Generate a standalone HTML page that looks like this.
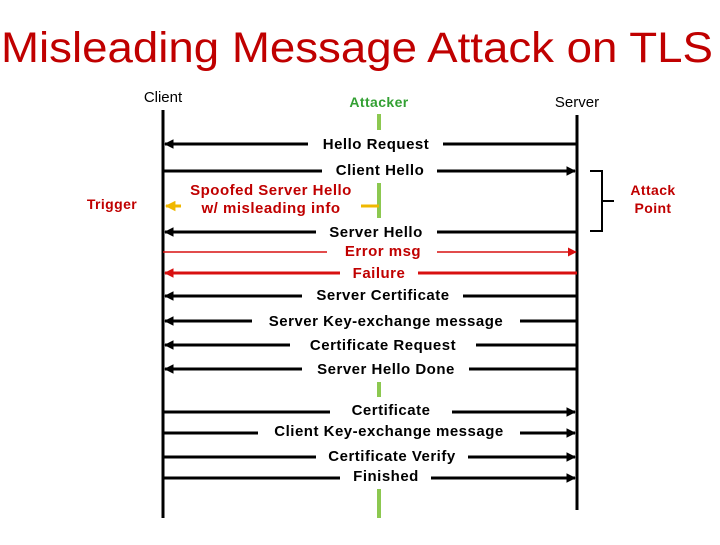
<!DOCTYPE html>
<html><head><style>
body{margin:0;background:#fff;width:720px;height:540px;overflow:hidden}
svg text{font-family:"Liberation Sans",Arial,sans-serif}
</style></head><body>
<svg width="720" height="540" viewBox="0 0 720 540" xmlns="http://www.w3.org/2000/svg">
<defs>
<marker id="ab" viewBox="0 0 10 10" refX="9" refY="5" markerWidth="3.2" markerHeight="3.2" orient="auto"><path d="M0,0L10,5L0,10z" fill="#000"/></marker>
<marker id="ar" viewBox="0 0 10 10" refX="9" refY="5" markerWidth="6" markerHeight="6" orient="auto"><path d="M0,0L10,5L0,10z" fill="#d81010"/></marker>
<marker id="ar2" viewBox="0 0 10 10" refX="9" refY="5" markerWidth="3.2" markerHeight="3.2" orient="auto"><path d="M0,0L10,5L0,10z" fill="#d81010"/></marker>
<marker id="ay" viewBox="0 0 10 10" refX="9" refY="5" markerWidth="3.5" markerHeight="3.5" orient="auto"><path d="M0,0L10,5L0,10z" fill="#f0b800"/></marker>
</defs>
<text x="357" y="62" font-size="43" text-anchor="middle" fill="#c00000" textLength="712" lengthAdjust="spacingAndGlyphs">Misleading Message Attack on TLS</text>
<g font-size="15">
<text x="163" y="102" text-anchor="middle">Client</text>
<text x="577" y="107" text-anchor="middle">Server</text>
</g>
<g font-weight="bold" font-size="14" letter-spacing="0.4">
<text x="379" y="107" text-anchor="middle" fill="#33a033">Attacker</text>
<text x="112" y="209" text-anchor="middle" fill="#c00000">Trigger</text>
<text x="653" y="195" text-anchor="middle" fill="#c00000">Attack</text>
<text x="653" y="213" text-anchor="middle" fill="#c00000">Point</text>
</g>
<g stroke="#000" stroke-width="3" fill="none">
<line x1="163" y1="110" x2="163" y2="518"/>
<line x1="577" y1="115" x2="577" y2="510"/>
</g>
<g stroke="#8cc850" stroke-width="4">
<line x1="379" y1="114" x2="379" y2="130"/>
<line x1="379" y1="183" x2="379" y2="218"/>
<line x1="379" y1="382" x2="379" y2="397"/>
<line x1="379" y1="489" x2="379" y2="518"/>
</g>
<path d="M590,171H602V231H590M602,201H614" stroke="#000" stroke-width="2" fill="none"/>
<g stroke="#f0b800" stroke-width="3">
<line x1="181" y1="206" x2="166" y2="206" marker-end="url(#ay)"/>
<line x1="361" y1="206" x2="379" y2="206"/>
</g>
<g stroke="#000" stroke-width="3" fill="none">
<line x1="308" y1="144" x2="165" y2="144" marker-end="url(#ab)"/><line x1="443" y1="144" x2="577" y2="144"/>
<line x1="316" y1="232" x2="165" y2="232" marker-end="url(#ab)"/><line x1="437" y1="232" x2="577" y2="232"/>
<line x1="302" y1="296" x2="165" y2="296" marker-end="url(#ab)"/><line x1="463" y1="296" x2="577" y2="296"/>
<line x1="252" y1="321" x2="165" y2="321" marker-end="url(#ab)"/><line x1="520" y1="321" x2="577" y2="321"/>
<line x1="290" y1="345" x2="165" y2="345" marker-end="url(#ab)"/><line x1="476" y1="345" x2="577" y2="345"/>
<line x1="302" y1="369" x2="165" y2="369" marker-end="url(#ab)"/><line x1="469" y1="369" x2="577" y2="369"/>
<line x1="163" y1="171" x2="322" y2="171"/><line x1="437" y1="171" x2="575" y2="171" marker-end="url(#ab)"/>
<line x1="163" y1="412" x2="330" y2="412"/><line x1="452" y1="412" x2="575" y2="412" marker-end="url(#ab)"/>
<line x1="163" y1="433" x2="258" y2="433"/><line x1="520" y1="433" x2="575" y2="433" marker-end="url(#ab)"/>
<line x1="163" y1="457" x2="316" y2="457"/><line x1="468" y1="457" x2="575" y2="457" marker-end="url(#ab)"/>
<line x1="163" y1="478" x2="340" y2="478"/><line x1="431" y1="478" x2="575" y2="478" marker-end="url(#ab)"/>
</g>
<g stroke="#d81010" fill="none">
<line x1="163" y1="252" x2="327" y2="252" stroke-width="1.5"/><line x1="437" y1="252" x2="576" y2="252" stroke-width="1.5" marker-end="url(#ar)"/>
<line x1="340" y1="273" x2="165" y2="273" stroke-width="3" marker-end="url(#ar2)"/><line x1="418" y1="273" x2="577" y2="273" stroke-width="3"/>
</g>
<g font-size="15" font-weight="bold" letter-spacing="0.5" text-anchor="middle">
<text x="376" y="149">Hello Request</text>
<text x="380" y="175">Client Hello</text>
<text x="271" y="195" fill="#c00000">Spoofed Server Hello</text>
<text x="271" y="213" fill="#c00000">w/ misleading info</text>
<text x="376" y="237">Server Hello</text>
<text x="383" y="256" fill="#c00000">Error msg</text>
<text x="379" y="278" fill="#c00000">Failure</text>
<text x="383" y="300">Server Certificate</text>
<text x="386" y="326">Server Key-exchange message</text>
<text x="383" y="350">Certificate Request</text>
<text x="386" y="374">Server Hello Done</text>
<text x="391" y="415">Certificate</text>
<text x="389" y="436">Client Key-exchange message</text>
<text x="392" y="461">Certificate Verify</text>
<text x="386" y="481">Finished</text>
</g>
</svg>
</body></html>
